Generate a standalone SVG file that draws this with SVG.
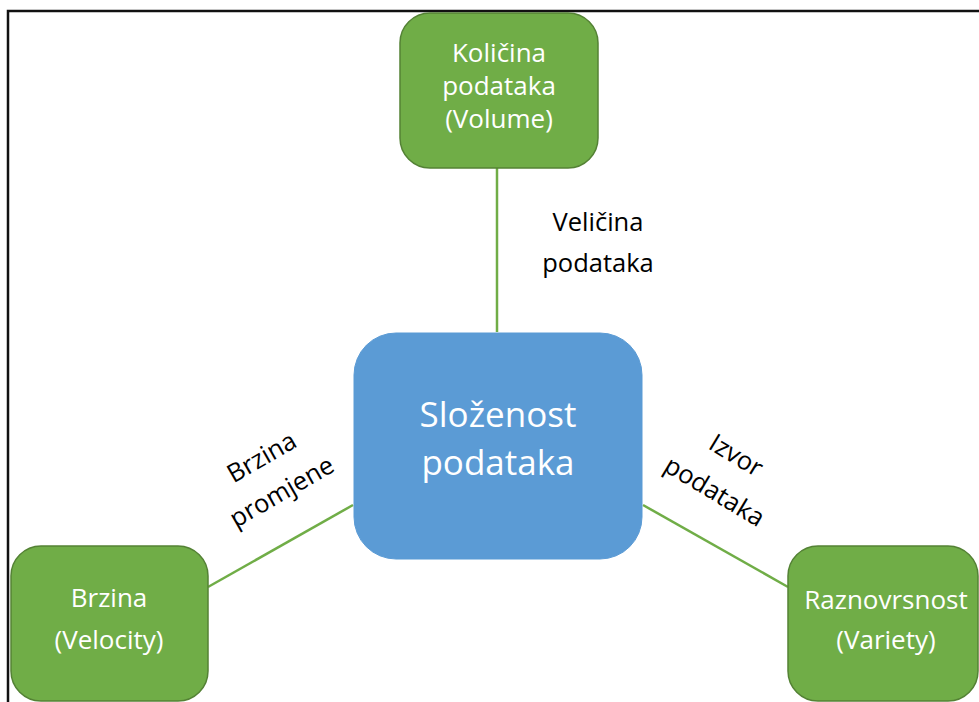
<svg xmlns="http://www.w3.org/2000/svg" width="979" height="702" viewBox="0 0 979 702">
<style>
.g{fill:#70AD47;stroke:#548235;stroke-width:1.5}
.b{fill:#5B9BD5;stroke:#5B9BD5;stroke-width:1}
.w{fill:#fff;font-family:"Open Sans",sans-serif;text-anchor:middle}
.k{fill:#000;font-family:"Open Sans",sans-serif;text-anchor:middle;font-size:25.5px}
.c{stroke:#70AD47;stroke-width:2.5;fill:none}
</style>
<rect width="979" height="702" fill="#fff"/>
<path d="M8 702 V11 H979" fill="none" stroke="#111" stroke-width="2.5"/>
<g id="connectors">
<line class="c" x1="497" y1="168" x2="497" y2="332"/>
<line class="c" x1="353" y1="505" x2="208" y2="587"/>
<line class="c" x1="643" y1="505" x2="788" y2="587"/>
</g>
<g id="volume">
<rect class="g" x="400" y="13" width="198" height="155" rx="30"/>
<text class="w" font-size="26" x="499" y="62">Količina</text>
<text class="w" font-size="26" x="499" y="95">podataka</text>
<text class="w" font-size="26" x="499" y="128">(Volume)</text>
</g>
<g id="center">
<rect class="b" x="354" y="333" width="288" height="226" rx="42"/>
<text class="w" font-size="35" x="498" y="427">Složenost</text>
<text class="w" font-size="35" x="498" y="475">podataka</text>
</g>
<g id="velocity">
<rect class="g" x="11" y="546" width="197" height="155" rx="30"/>
<text class="w" font-size="26" x="109" y="607">Brzina</text>
<text class="w" font-size="26" x="109" y="649">(Velocity)</text>
</g>
<g id="variety">
<rect class="g" x="788" y="546" width="190" height="155" rx="30"/>
<text class="w" font-size="26" x="886" y="609">Raznovrsnost</text>
<text class="w" font-size="26" x="886" y="649">(Variety)</text>
</g>
<g id="label-volume">
<text class="k" x="598" y="231">Veličina</text>
<text class="k" x="598" y="272">podataka</text>
</g>
<g id="label-velocity" transform="translate(272 475) rotate(-30)">
<text class="k" x="0" y="-12">Brzina</text>
<text class="k" x="0" y="28">promjene</text>
</g>
<g id="label-variety" transform="translate(725 474) rotate(31)">
<text class="k" x="0" y="-13">Izvor</text>
<text class="k" x="0" y="29">podataka</text>
</g>
</svg>
